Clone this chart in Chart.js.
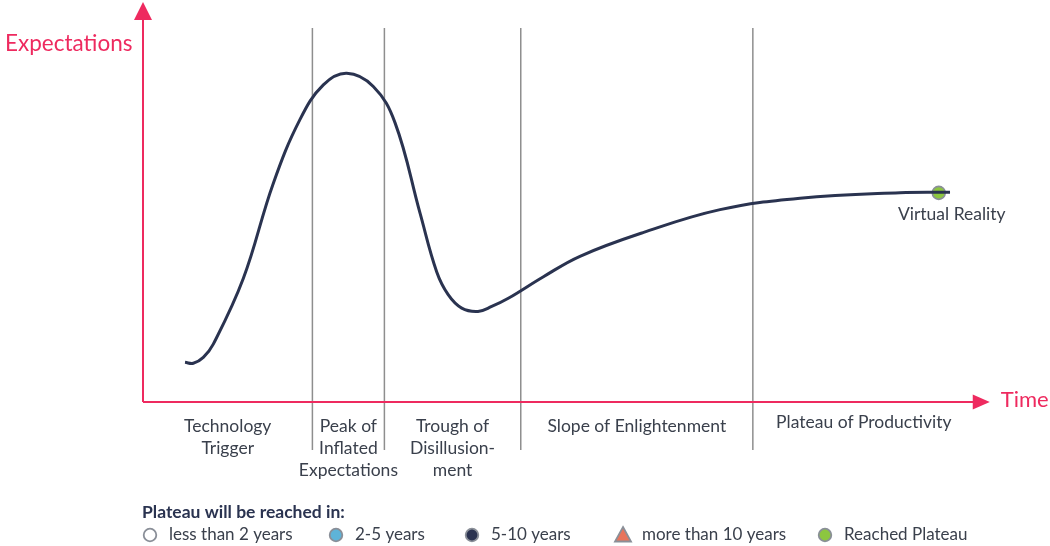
<!DOCTYPE html>
<html>
<head>
<meta charset="utf-8">
<script src="https://cdn.jsdelivr.net/npm/chart.js@4.4.1/dist/chart.umd.min.js"></script>
<style>
  html, body { margin: 0; padding: 0; background: #ffffff; }
  #wrap { width: 1050px; height: 546px; position: relative; }
</style>
</head>
<body>
<div id="wrap"><canvas id="hype"></canvas></div>
<script>
// Hype cycle curve: time (x) vs. expectations (y), both on a 0-100 scale
const curveTime = [4.96, 5.94, 7.12, 8.30, 11.84, 15.38, 18.54, 21.29, 24.05, 27.19, 29.75, 32.70, 34.68, 36.05, 37.63, 39.55, 41.17, 43.13, 47.23, 51.59, 59.03, 68.13, 77.57, 89.37, 95.28];
const curveExpectation = [10.08, 9.83, 11.33, 14.68, 31.33, 55.5, 71.75, 80.5, 83.43, 80.08, 70.93, 48.0, 33.0, 27.18, 23.83, 23.0, 24.25, 26.33, 31.75, 37.0, 43.0, 48.83, 51.75, 53.13, 53.25];

// Phases of the cycle and their boundaries on the time axis
const phaseNames = [
  ["Technology", "Trigger"],
  ["Peak of", "Inflated", "Expectations"],
  ["Trough of", "Disillusion-", "ment"],
  ["Slope of Enlightenment"],
  ["Plateau of Productivity"]
];
const phaseBounds = [0, 20, 28.5, 44.6, 72, 98.2];

// Technologies placed on the curve
const techNames = ["Virtual Reality"];
const techTime = [93.95];
const techExpectation = [53.1];
const techStatus = [4];

// Legend: time until plateau
const legendTitle = "Plateau will be reached in:";
const legendLabels = ["less than 2 years", "2-5 years", "5-10 years", "more than 10 years", "Reached Plateau"];
const legendColors = ["#ffffff", "#5eb3d8", "#2b3350", "#e8745c", "#8cc63f"];
const legendShapes = ["circle", "circle", "circle", "triangle", "circle"];

const axisTitles = { y: "Expectations", x: "Time" };

const PINK = "#ee2a5f";
const NAVY = "#2a3350";
const TEXT = "#3a404c";
const FONT = "Lato, 'Open Sans', sans-serif";

function drawMarker(ctx, shape, cx, cy, fill) {
  ctx.save();
  ctx.fillStyle = fill;
  ctx.strokeStyle = "#8a8f98";
  ctx.lineWidth = 1.8;
  ctx.beginPath();
  if (shape === "triangle") {
    ctx.moveTo(cx, cy - 8);
    ctx.lineTo(cx + 8, cy + 6.5);
    ctx.lineTo(cx - 8, cy + 6.5);
    ctx.closePath();
  } else {
    ctx.arc(cx, cy, 6.3, 0, Math.PI * 2);
  }
  ctx.fill();
  ctx.stroke();
  ctx.restore();
}

const hypeFrame = {
  id: "hypeFrame",
  beforeDatasetsDraw(chart) {
    const { ctx, scales: { x, y } } = chart;
    const x0 = x.getPixelForValue(0);
    const y0 = y.getPixelForValue(0);
    const xEnd = x.getPixelForValue(phaseBounds[phaseBounds.length - 1]);
    ctx.save();

    // phase dividers
    ctx.strokeStyle = "#8e8e8e";
    ctx.lineWidth = 1.5;
    for (let i = 1; i < phaseBounds.length - 1; i++) {
      const px = x.getPixelForValue(phaseBounds[i]);
      ctx.beginPath();
      ctx.moveTo(px, 28);
      ctx.lineTo(px, 450);
      ctx.stroke();
    }

    // axes with arrow heads
    ctx.strokeStyle = PINK;
    ctx.fillStyle = PINK;
    ctx.lineWidth = 2;
    ctx.beginPath();
    ctx.moveTo(x0, y0);
    ctx.lineTo(x0, 18);
    ctx.moveTo(x0, y0);
    ctx.lineTo(xEnd, y0);
    ctx.stroke();
    ctx.beginPath();
    ctx.moveTo(x0, 2);
    ctx.lineTo(x0 + 9, 20);
    ctx.lineTo(x0 - 9, 20);
    ctx.closePath();
    ctx.fill();
    ctx.beginPath();
    ctx.moveTo(xEnd - 2, y0 - 7.5);
    ctx.lineTo(xEnd + 15, y0);
    ctx.lineTo(xEnd - 2, y0 + 7.5);
    ctx.closePath();
    ctx.fill();

    // axis titles
    ctx.textBaseline = "middle";
    ctx.textAlign = "left";
    ctx.font = "22.5px " + FONT;
    ctx.fillText(axisTitles.y, 5, 44);
    ctx.font = "22px " + FONT;
    ctx.fillText(axisTitles.x, xEnd + 26, y0 - 2);

    // phase names
    ctx.fillStyle = TEXT;
    ctx.font = "17.5px " + FONT;
    ctx.textAlign = "center";
    for (let i = 0; i < phaseNames.length; i++) {
      const cx = (x.getPixelForValue(phaseBounds[i]) + x.getPixelForValue(phaseBounds[i + 1])) / 2;
      const top = i === 4 ? 422 : 426;
      phaseNames[i].forEach((line, k) => ctx.fillText(line, cx, top + k * 22));
    }

    // legend
    ctx.textAlign = "left";
    ctx.fillStyle = NAVY;
    ctx.font = "bold 17.5px " + FONT;
    ctx.fillText(legendTitle, 142, 512);
    const markerX = [150, 336, 472, 623, 825];
    ctx.font = "17px " + FONT;
    legendLabels.forEach((lab, i) => {
      drawMarker(ctx, legendShapes[i], markerX[i], 535, legendColors[i]);
      ctx.fillStyle = TEXT;
      ctx.fillText(lab, markerX[i] + 19, 535);
    });
    ctx.restore();
  },
  afterDatasetsDraw(chart) {
    const { ctx, scales: { x, y } } = chart;
    ctx.save();
    ctx.fillStyle = TEXT;
    ctx.font = "17.5px " + FONT;
    ctx.textAlign = "center";
    ctx.textBaseline = "middle";
    techNames.forEach((name, i) => {
      ctx.fillText(name, x.getPixelForValue(techTime[i]) + 13, y.getPixelForValue(techExpectation[i]) + 22);
    });
    ctx.restore();
  }
};

new Chart(document.getElementById("hype"), {
  type: "scatter",
  data: {
    datasets: [
      {
        label: "Hype cycle",
        data: curveTime.map((t, i) => ({ x: t, y: curveExpectation[i] })),
        showLine: true,
        borderColor: NAVY,
        borderWidth: 3,
        pointRadius: 0,
        tension: 0.4,
        fill: false
      },
      {
        label: "Technologies",
        data: techTime.map((t, i) => ({ x: t, y: techExpectation[i] })),
        pointRadius: 6.5,
        pointBackgroundColor: techStatus.map(s => legendColors[s]),
        pointBorderColor: "#8a8f98",
        pointBorderWidth: 1.6
      }
    ]
  },
  options: {
    responsive: true,
    maintainAspectRatio: false,
    animation: false,
    layout: { padding: { left: 143, right: 60, top: 2, bottom: 144 } },
    scales: {
      x: { type: "linear", min: 0, max: 100, display: false },
      y: { type: "linear", min: 0, max: 100, display: false }
    },
    plugins: { legend: { display: false }, tooltip: { enabled: false } },
    elements: { point: { hoverRadius: 6.5 } }
  },
  plugins: [hypeFrame]
});
</script>
</body>
</html>
